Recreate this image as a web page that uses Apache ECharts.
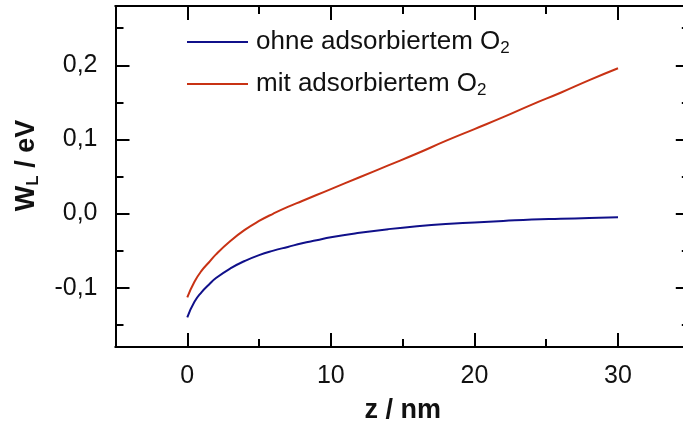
<!DOCTYPE html>
<html>
<head>
<meta charset="utf-8">
<script src="https://cdn.jsdelivr.net/npm/echarts@6/dist/echarts.min.js"></script>
<style>
  html, body { margin: 0; padding: 0; background: #fff; }
  #chart { width: 683px; height: 423px; }
</style>
</head>
<body>
<div id="chart"></div>
<script>
// ---- Daten ----
const zValues = [0, 0.5, 1, 1.5, 2, 3, 4, 5, 6, 7, 8, 9, 10, 12, 14, 16, 18, 20, 22, 24, 26, 28, 30]
const ohneO2 = [-0.140, -0.119, -0.106, -0.096, -0.087, -0.074, -0.064, -0.056, -0.050, -0.045, -0.040, -0.036,
  -0.032, -0.026, -0.021, -0.017, -0.014, -0.012, -0.010, -0.008, -0.007, -0.006, -0.005]
const mitO2 = [-0.113, -0.092, -0.077, -0.066, -0.055, -0.037, -0.022, -0.010, 0.000, 0.009, 0.017, 0.025,
  0.033, 0.049, 0.065, 0.081, 0.098, 0.114, 0.130, 0.147, 0.163, 0.180, 0.196]

const xMajor = [0, 10, 20, 30]
const xMinor = [-5, 5, 15, 25, 35]
const yMajor = [-0.1, 0, 0.1, 0.2]
const yMinor = [-0.15, -0.05, 0.05, 0.15, 0.25]

const X_MIN = -5, X_MAX = 35
const Y_MIN = -0.18, Y_MAX = 0.28
const FONT = 'Liberation Sans, Arial, sans-serif'
const BLUE = '#10108a'
const RED = '#c83214'

const chart = echarts.init(document.getElementById('chart'))

// Achse mit Ticks nach innen; major = lange Ticks, minor = kurze
function xAxis(position, ticks, len, withLabels) {
  return {
    type: 'value', position, min: X_MIN, max: X_MAX,
    axisLine: { show: true, onZero: false, lineStyle: { color: '#000', width: 2 } },
    axisTick: { show: true, inside: true, length: len, customValues: ticks, lineStyle: { color: '#000', width: 2 } },
    axisLabel: withLabels
      ? { show: true, customValues: xMajor, color: '#111', fontFamily: FONT, fontSize: 25, margin: 17 }
      : { show: false },
    splitLine: { show: false },
  }
}

function yAxis(position, ticks, len, withLabels) {
  return {
    type: 'value', position, min: Y_MIN, max: Y_MAX,
    // rechte Achse liegt außerhalb des Bildes, nur die Ticks ragen hinein
    axisLine: { show: position === 'left', onZero: false, lineStyle: { color: '#000', width: 2 } },
    axisTick: { show: true, inside: true, length: len, customValues: ticks, lineStyle: { color: '#000', width: 2 } },
    axisLabel: withLabels
      ? {
          show: true, customValues: yMajor, color: '#111', fontFamily: FONT, fontSize: 25, margin: 18,
          formatter: (v) => v.toFixed(1).replace('.', ','),
        }
      : { show: false },
    splitLine: { show: false },
  }
}

const xAxes = [
  xAxis('bottom', xMajor, 14, true),
  xAxis('bottom', xMinor, 8, false),
  xAxis('top', xMajor, 14, false),
  xAxis('top', xMinor, 8, false),
]
xAxes[0].name = 'z / nm'
xAxes[0].nameLocation = 'middle'
xAxes[0].nameGap = 50
xAxes[0].nameTextStyle = { color: '#111', fontFamily: FONT, fontSize: 27, fontWeight: 'bold' }

const yAxes = [
  yAxis('left', yMajor, 14, true),
  yAxis('left', yMinor, 8, false),
  yAxis('right', yMajor, 14, false),
  yAxis('right', yMinor, 8, false),
]
yAxes[0].name = '{m|W}{s|L}{m| / eV}'
yAxes[0].nameLocation = 'middle'
yAxes[0].nameGap = 74
yAxes[0].nameTextStyle = {
  color: '#111', fontFamily: FONT, fontSize: 27, fontWeight: 'bold',
  padding: [0, 0, 0, 22],
  rich: {
    m: { fontFamily: FONT, fontSize: 27, fontWeight: 'bold', color: '#111' },
    s: { fontFamily: FONT, fontSize: 17, fontWeight: 'bold', color: '#111', padding: [12, 0, 0, 0] },
  },
}

const legendRich = {
  t: { fontFamily: FONT, fontSize: 26, color: '#111', padding: [0, 0, 0, 3] },
  s: { fontFamily: FONT, fontSize: 17, color: '#111', padding: [13, 0, 0, 0] },
}
function legendAt(name, top, color) {
  return {
    data: [name], left: 187, top, orient: 'vertical', padding: 0,
    icon: 'rect', itemWidth: 61, itemHeight: 2,
    itemStyle: { color },
    formatter: (n) => `{t|${n} O}{s|2}`,
    textStyle: { rich: legendRich },
  }
}

chart.setOption({
  animation: false,
  backgroundColor: '#fff',
  grid: { left: 115.5, width: 574.3, top: 6, bottom: 76, outerBoundsMode: 'none', containLabel: false },
  legend: [legendAt('ohne adsorbiertem', 29, BLUE), legendAt('mit adsorbiertem', 71, RED)],
  xAxis: xAxes,
  yAxis: yAxes,
  series: [
    {
      name: 'ohne adsorbiertem', type: 'line', smooth: 0.5, symbol: 'none',
      xAxisIndex: 0, yAxisIndex: 0,
      data: zValues.map((z, i) => [z, ohneO2[i]]),
      lineStyle: { color: BLUE, width: 2 }, itemStyle: { color: BLUE },
    },
    {
      name: 'mit adsorbiertem', type: 'line', smooth: 0.5, symbol: 'none',
      xAxisIndex: 0, yAxisIndex: 0,
      data: zValues.map((z, i) => [z, mitO2[i]]),
      lineStyle: { color: RED, width: 2 }, itemStyle: { color: RED },
    },
  ],
})
</script>
</body>
</html>
